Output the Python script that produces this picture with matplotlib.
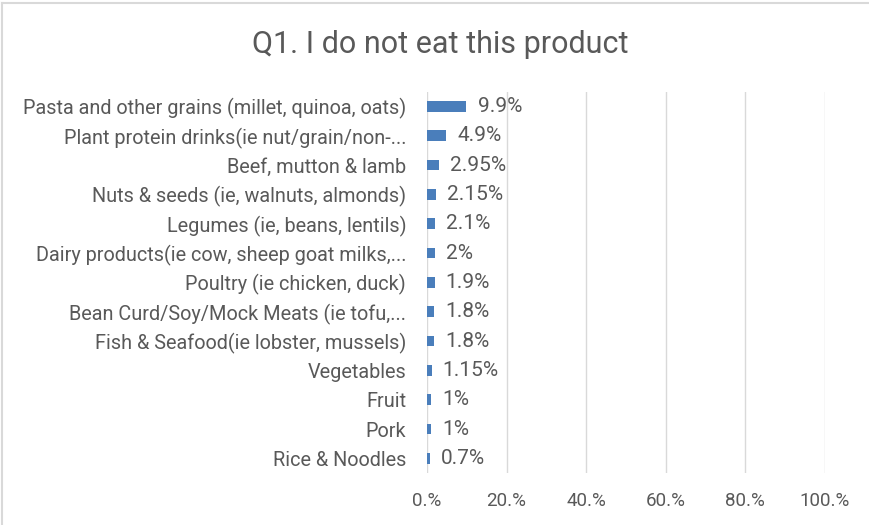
import matplotlib.pyplot as plt
from matplotlib.lines import Line2D

categories = [
    "Pasta and other grains (millet, quinoa, oats)",
    "Plant protein drinks(ie nut/grain/non-...",
    "Beef, mutton & lamb",
    "Nuts & seeds (ie, walnuts, almonds)",
    "Legumes (ie, beans, lentils)",
    "Dairy products(ie cow, sheep goat milks,...",
    "Poultry (ie chicken, duck)",
    "Bean Curd/Soy/Mock Meats (ie tofu,...",
    "Fish & Seafood(ie lobster, mussels)",
    "Vegetables",
    "Fruit",
    "Pork",
    "Rice & Noodles",
]
values = [9.9, 4.9, 2.95, 2.15, 2.1, 2.0, 1.9, 1.8, 1.8, 1.15, 1.0, 1.0, 0.7]
value_labels = ["9.9%", "4.9%", "2.95%", "2.15%", "2.1%", "2%", "1.9%",
                "1.8%", "1.8%", "1.15%", "1%", "1%", "0.7%"]
xticks = [0, 20, 40, 60, 80, 100]
xtick_labels = ["0.%", "20.%", "40.%", "60.%", "80.%", "100.%"]

plt.rcParams['font.family'] = ['Roboto', 'DejaVu Sans']
grey = '#595959'

fig = plt.figure(figsize=(8.7, 5.25), dpi=100)
ax = fig.add_axes([0.4908, 0.099, 0.4575, 0.7262])

ypos = list(range(len(categories)))[::-1]
ax.barh(ypos, values, height=0.36, color='#4A7EBB', zorder=3)

for y, v, lab in zip(ypos, values, value_labels):
    ax.annotate(lab, (v, y), xytext=(8, 0), textcoords='offset points',
                va='center', ha='left', fontsize=15, color=grey)

ax.set_xlim(0, 100)
ax.set_ylim(-0.5, len(categories) - 0.5)
ax.set_xticks(xticks)
ax.set_xticklabels(xtick_labels, fontsize=13.5, color=grey)
ax.set_yticks(ypos)
ax.set_yticklabels(categories, fontsize=14.3, color=grey)
ax.tick_params(axis='both', length=0)
ax.tick_params(axis='x', pad=14)
ax.tick_params(axis='y', pad=15)
ax.grid(axis='x', color='#d9d9d9', linewidth=1, zorder=0)
for s in ax.spines.values():
    s.set_visible(False)

fig.text(0.506, 0.915, "Q1. I do not eat this product", ha='center', va='center',
         fontsize=22, color=grey)

# thin chart border along top and left
fig.add_artist(Line2D([0.002, 1], [0.994, 0.994], color='#d9d9d9', linewidth=1.5))
fig.add_artist(Line2D([0.002, 0.002], [0, 0.994], color='#d9d9d9', linewidth=1.5))

fig.savefig('out.png', dpi=100)
